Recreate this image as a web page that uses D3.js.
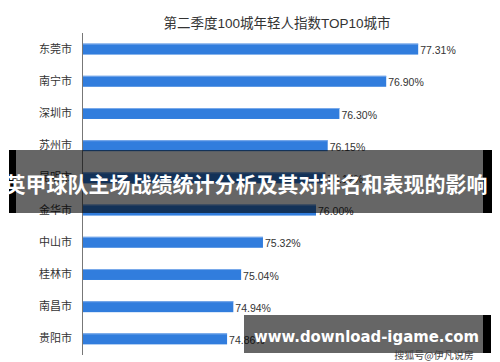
<!DOCTYPE html>
<html><head><meta charset="utf-8">
<script src="https://cdn.jsdelivr.net/npm/d3@7/dist/d3.min.js"></script>
<style>body{margin:0;background:#fff}svg{display:block}</style>
</head><body>
<script>
const title = "第二季度100城年轻人指数TOP10城市";
const cities = ["东莞市","南宁市","深圳市","苏州市","昆明市","金华市","中山市","桂林市","南昌市","贵阳市"];
const values = [77.31,76.90,76.30,76.15,76.12,76.00,75.32,75.04,74.94,74.86];
const bannerText = "英甲球队主场战绩统计分析及其对排名和表现的影响";
const siteText = "www.download-igame.com";
const markText = "搜狐号@伊凡说房";

const W = 500, H = 362;
const svg = d3.select("body").append("svg").attr("width", W).attr("height", H);
const cjk = "'Noto Sans CJK SC','Liberation Sans',sans-serif";

const x = d3.scaleLinear().domain([73, 78]).range([82, 472]);
const y = d3.scaleBand().domain(cities).range([33, 355]).paddingInner(0.66).paddingOuter(0.33);

svg.append("text").attr("x", 277).attr("y", 23).attr("text-anchor", "middle")
  .attr("dominant-baseline", "central")
  .style("font-family", "'Liberation Sans','Noto Sans CJK SC',sans-serif").style("font-size", "13.5px")
  .attr("fill", "#333").text(title);

svg.selectAll("rect.bar").data(cities).join("rect").attr("class", "bar")
  .attr("x", x(73)).attr("y", d => y(d))
  .attr("width", (d, i) => x(values[i]) - x(73)).attr("height", y.bandwidth())
  .attr("fill", "#317ddd");
svg.selectAll("line.hl").data(cities).join("line").attr("class", "hl")
  .attr("x1", x(73)).attr("x2", (d, i) => x(values[i]))
  .attr("y1", d => y(d) + 0.5).attr("y2", d => y(d) + 0.5)
  .attr("stroke", "#7aaaea").attr("stroke-width", 1);

svg.selectAll("text.val").data(cities).join("text").attr("class", "val")
  .attr("x", (d, i) => x(values[i]) + 2).attr("y", d => y(d) + y.bandwidth() / 2 + 1)
  .attr("dominant-baseline", "central")
  .style("font-family", "'Liberation Sans',sans-serif").style("font-size", "10.5px")
  .attr("fill", "#333").text((d, i) => values[i].toFixed(2) + "%");

const yAxis = d3.axisLeft(y).tickSize(0).tickPadding(10);
const ga = svg.append("g").attr("transform", `translate(${x(73)},0)`).call(yAxis);
ga.select(".domain").attr("stroke", "#777").attr("d", "M0.5,33V355");
ga.selectAll("text").style("font-family", cjk).style("font-size", "11px").attr("fill", "#333");

// overlay banner
svg.append("rect").attr("x", 9).attr("y", 150).attr("width", 7).attr("height", 63).attr("fill", "#000");
svg.append("rect").attr("x", 483).attr("y", 150).attr("width", 9).attr("height", 63).attr("fill", "#000");
svg.append("rect").attr("x", 16).attr("y", 150).attr("width", 467).attr("height", 63).attr("fill", "rgba(0,0,0,0.6)");
svg.append("text").attr("x", 246).attr("y", 183).attr("text-anchor", "middle").attr("dominant-baseline", "central")
  .style("font-family", cjk).style("font-size", "21px").style("font-weight", "bold")
  .attr("fill", "#fff").text(bannerText);

// bottom-right site banner
svg.append("rect").attr("x", 244).attr("y", 315).attr("width", 239).attr("height", 38).attr("fill", "rgba(0,0,0,0.6)");
svg.append("rect").attr("x", 483).attr("y", 315).attr("width", 8).attr("height", 38).attr("fill", "#000");
svg.append("text").attr("x", 254).attr("y", 342)
  .style("font-family", "'DejaVu Sans',sans-serif").style("font-size", "15px").style("font-weight", "bold")
  .attr("textLength", 225).attr("lengthAdjust", "spacingAndGlyphs")
  .attr("fill", "#fff").text(siteText);
svg.append("text").attr("x", 434).attr("y", 354).attr("text-anchor", "middle").attr("dominant-baseline", "central")
  .style("font-family", cjk).style("font-size", "10px")
  .attr("fill", "#444").text(markText);
</script>
</body></html>
